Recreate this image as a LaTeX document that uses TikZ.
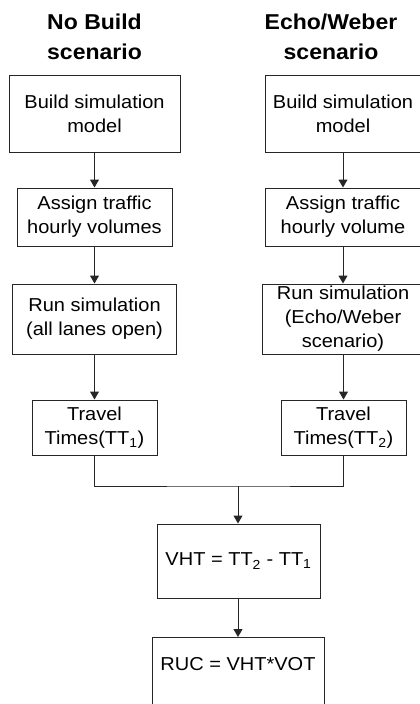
\documentclass[tikz,border=0pt]{standalone}
\usepackage{fontspec}
\setmainfont{Liberation Sans}[FakeStretch=1.07]
\usetikzlibrary{arrows.meta}
\begin{document}
\begin{tikzpicture}[x=1pt,y=-1pt,
  box/.style={draw=black!85, line width=1pt, inner sep=0pt, align=center,
    font=\fontsize{18.7}{24}\selectfont},
  title/.style={align=center, font=\fontsize{21.5}{30}\selectfont\bfseries},
  arr/.style={draw=black!85, line width=1pt, -{Triangle[width=9pt,length=8pt]}},
  link/.style={draw=black!85, line width=1pt}]
\useasboundingbox (0,0) rectangle (420,704);
\clip (0,0) rectangle (420,704);
% titles
\node[title] (tl) at (94.5,36.5) {No Build\\scenario};
\node[title] (tr) at (331,36.5) {Echo/Weber\\scenario};
% left column
\node[box, minimum width=171pt, minimum height=77pt] (l1) at (94.5,113.5) {Build simulation\\model};
\node[box, minimum width=155pt, minimum height=58pt] (l2) at (94.5,217) {Assign traffic\\hourly volumes};
\node[box, minimum width=164pt, minimum height=70pt] (l3) at (94.5,319) {Run simulation\\(all lanes open)};
\node[box, minimum width=125pt, minimum height=55pt] (l4) at (94.5,427.5) {Travel\\Times(TT\textsubscript{1})};
% right column
\node[box, minimum width=156pt, minimum height=77pt] (r1) at (343,113.5) {Build simulation\\model};
\node[box, minimum width=156pt, minimum height=58pt] (r2) at (343,217) {Assign traffic\\hourly volume};
\node[box, minimum width=162pt, minimum height=70pt] (r3) at (343,319) {Run simulation\\(Echo/Weber\\scenario)};
\node[box, minimum width=125pt, minimum height=55pt] (r4) at (343.5,427.5) {Travel\\Times(TT\textsubscript{2})};
% bottom
\coordinate (m) at (238,486);
\node[box, minimum width=163pt, minimum height=74pt] (vht) at (238.5,561) {VHT = TT\textsubscript{2} - TT\textsubscript{1}};
\node[box, minimum width=172pt, minimum height=83pt, anchor=north] (ruc) at (238,637) {};
\node[font=\fontsize{18.7}{24}\selectfont, inner sep=0pt] (ruct) at (238,664) {RUC = VHT*VOT};
% connectors
\draw[arr] (l1) -- (l2);
\draw[arr] (l2) -- (l3);
\draw[arr] (l3) -- (l4);
\draw[arr] (r1) -- (r2);
\draw[arr] (r2) -- (r3);
\draw[arr] (r3.south -| r4.north) -- (r4.north);
\draw[link] (l4.south) |- (m) -| (r4.south -| r3.south);
\draw[arr] (m) -- (vht.north -| m);
\draw[arr] (vht.south -| m) -- (ruc.north -| m);
\end{tikzpicture}
\end{document}
